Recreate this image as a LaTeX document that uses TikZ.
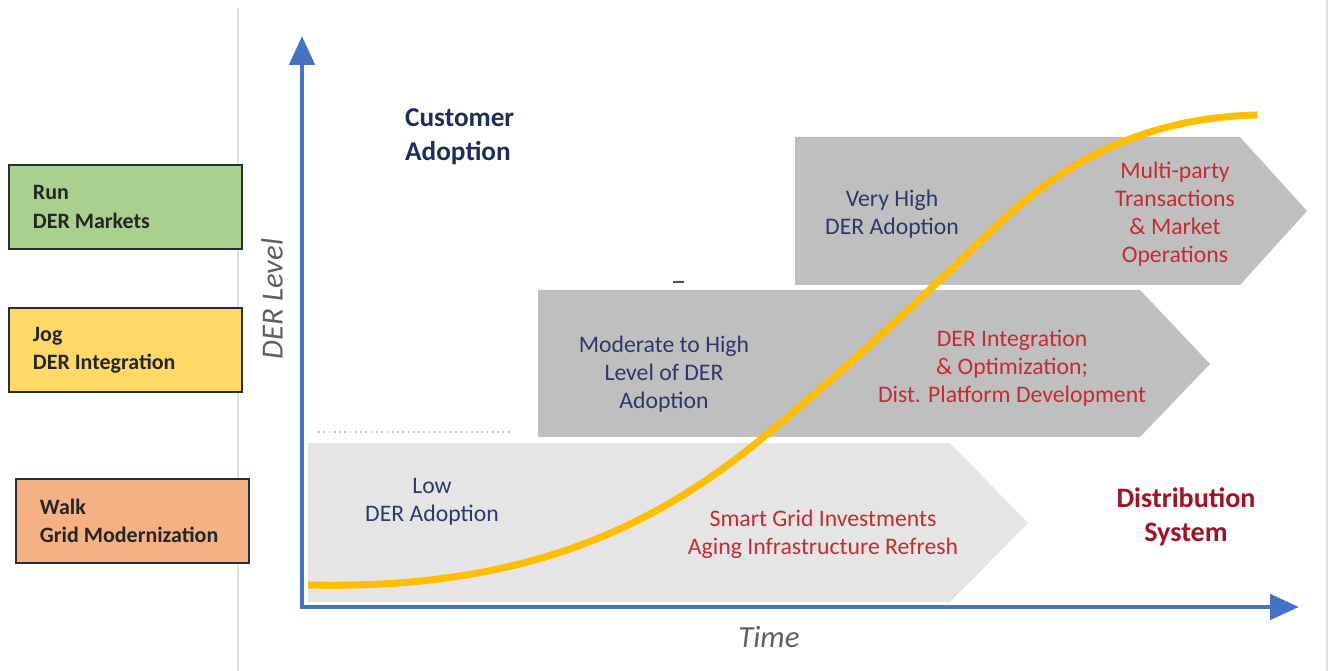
\documentclass[tikz,border=0pt]{standalone}
\usepackage{fontspec}
\setmainfont{Carlito}
\usetikzlibrary{arrows.meta,positioning}
\definecolor{axisBlue}{RGB}{68,114,196}
\definecolor{curveGold}{RGB}{255,190,0}
\definecolor{navyText}{RGB}{44,58,106}
\definecolor{redText}{RGB}{196,44,50}
\definecolor{headBlue}{RGB}{31,45,92}
\definecolor{headRed}{RGB}{165,16,40}
\definecolor{bandLight}{RGB}{229,229,229}
\definecolor{bandGray}{RGB}{191,191,191}
\definecolor{boxGreen}{RGB}{169,209,142}
\definecolor{boxYellow}{RGB}{255,217,102}
\definecolor{boxOrange}{RGB}{244,177,131}
\definecolor{inkDark}{RGB}{45,45,45}
\definecolor{labelGray}{RGB}{95,95,95}
\tikzset{
  level box/.style={draw=inkDark,line width=1.1pt,align=flush left,text width=3.7cm,inner xsep=0.48cm,minimum height=1.68cm,text=black!85,font=\fontsize{12.5}{16}\selectfont\bfseries},
  level box green/.style={level box,fill=boxGreen},
  level box yellow/.style={level box,fill=boxYellow},
  level box orange/.style={level box,fill=boxOrange},
  band light/.style={fill=bandLight},
  band gray/.style={fill=bandGray},
  adoption text/.style={align=center,text=navyText,font=\fontsize{13.5}{16}\selectfont},
  action text/.style={align=center,text=redText,font=\fontsize{13.5}{16}\selectfont},
  axis arrow/.style={-{Triangle[length=5.8mm,width=5mm]},line width=2.8pt,draw=axisBlue},
  axis label/.style={text=labelGray,font=\fontsize{17.5}{20}\selectfont\itshape},
  der curve/.style={draw=curveGold,line width=4pt}
}

\begin{document}
\begin{tikzpicture}[x=0.02cm,y=-0.02cm]
  \useasboundingbox (0,0) rectangle (1330,671);
  % frame lines
  \draw[black!12,line width=0.6pt] (238,8) -- (238,671);
  \draw[black!12,line width=0.6pt] (1327,0) -- (1327,671);

  % stage bands
  \fill[band light] (308,443) -- (950,443) -- (1028,523) -- (950,602) -- (308,602) -- cycle;
  \fill[band gray] (538,290) -- (1140,290) -- (1210,364) -- (1140,437) -- (538,437) -- cycle;
  \fill[band gray] (795,137) -- (1240,137) -- (1307,211) -- (1240,285) -- (795,285) -- cycle;
  \draw[black!25,dotted,line width=1pt] (318,432) -- (513,432);
  \draw[black!70,line width=1.2pt] (673,282) -- (684,282);

  % adoption curve
  \draw[der curve] (308,585) .. controls (520,590) and (650,530) .. (760,440)
    .. controls (850,366) and (930,290) .. (990,232)
    .. controls (1050,174) and (1130,118) .. (1257,115);

  % axes
  \coordinate (origin) at (302,607);
  \coordinate (ytip) at (302,36);
  \coordinate (xtip) at (1299,607);
  \draw[axis arrow] (origin) -- (ytip);
  \draw[axis arrow] ([xshift=-1.4pt]origin) -- (xtip);
  \node[axis label,rotate=90] (ylabel) at (272,299) {DER Level};
  \node[axis label] (xlabel) at (769,637) {Time};

  % left scale
  \node[level box green,anchor=north west] (run) at (8,164) {Run\\DER Markets};
  \node[level box yellow,below=1.14cm of run] (jog) {Jog\\DER Integration};
  \node[level box orange,below=1.7cm of jog,xshift=0.14cm] (walk) {Walk\\Grid Modernization};

  % headings
  \node[anchor=west,align=left,text=headBlue,font=\fontsize{15.5}{19.5}\selectfont\bfseries] (customer) at (399,137) {Customer\\Adoption};
  \node[align=center,text=headRed,font=\fontsize{16}{19.5}\selectfont\bfseries] (dist) at (1186,517) {Distribution\\System};

  % band texts
  \node[adoption text] (low) at (432,502) {Low\\DER Adoption};
  \node[action text] (smart) at (823,534) {Smart Grid Investments\\Aging Infrastructure Refresh};
  \node[adoption text] (moderate) at (664,374) {Moderate to High\\Level of DER\\Adoption};
  \node[action text] (integration) at (1012,368) {DER Integration\\\& Optimization;\\Dist. Platform Development};
  \node[adoption text] (veryhigh) at (892,214) {Very High\\DER Adoption};
  \node[action text] (multiparty) at (1175,214) {Multi-party\\Transactions\\\& Market\\Operations};
\end{tikzpicture}
\end{document}
